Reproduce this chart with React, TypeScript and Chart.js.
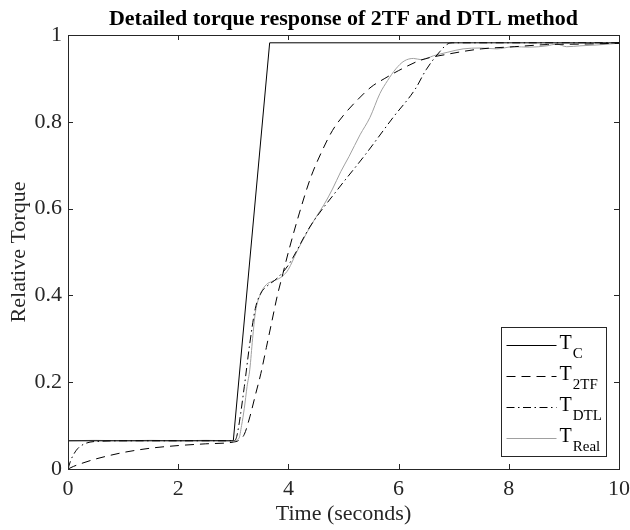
import React, { useEffect, useRef } from "react";
import { Chart, registerables } from "chart.js";

Chart.register(...registerables);

const TITLE = "Detailed torque response of 2TF and DTL method";
const X_LABEL = "Time (seconds)";
const Y_LABEL = "Relative Torque";
const X_TICKS = [0, 2, 4, 6, 8, 10];
const Y_TICKS = [0, 0.2, 0.4, 0.6, 0.8, 1];

const tC = [0, 3, 3.66, 10];
const vC = [0.065, 0.065, 0.982, 0.982];

const t2TF = [0, 0.1, 0.25, 0.5, 0.75, 1, 1.5, 2, 2.5, 3, 3.1, 3.2, 3.3, 3.4, 3.5, 3.6, 3.7, 3.8, 3.9, 4, 4.2, 4.4, 4.6, 4.8, 5, 5.25, 5.5, 5.75, 6, 6.4, 6.9, 7.5, 8.1, 8.7, 9.3, 10];
const v2TF = [0, 0.006, 0.013, 0.023, 0.031, 0.038, 0.048, 0.054, 0.058, 0.062, 0.066, 0.08, 0.12, 0.17, 0.22, 0.28, 0.34, 0.4, 0.45, 0.5, 0.59, 0.67, 0.73, 0.78, 0.815, 0.85, 0.88, 0.9, 0.918, 0.942, 0.956, 0.968, 0.973, 0.978, 0.979, 0.981];

const tDTL = [0, 0.05, 0.1, 0.15, 0.2, 0.3, 0.4, 0.6, 1, 2, 3, 3.05, 3.1, 3.2, 3.3, 3.4, 3.5, 3.6, 3.8, 4, 4.4, 4.9, 5.4, 5.9, 6.3, 6.5, 6.75, 6.9, 7, 8, 9, 10];
const vDTL = [0, 0.02, 0.033, 0.043, 0.05, 0.058, 0.062, 0.064, 0.065, 0.065, 0.065, 0.07, 0.1, 0.19, 0.29, 0.37, 0.405, 0.42, 0.44, 0.47, 0.56, 0.645, 0.725, 0.81, 0.875, 0.92, 0.962, 0.98, 0.982, 0.982, 0.982, 0.982];

const tReal = [0, 0.5, 1, 1.5, 2, 2.5, 3, 3.1, 3.15, 3.2, 3.25, 3.3, 3.35, 3.4, 3.5, 3.6, 3.7, 3.8, 3.9, 4, 4.15, 4.35, 4.5, 4.65, 4.8, 4.95, 5.1, 5.3, 5.48, 5.66, 5.8, 5.95, 6.1, 6.27, 6.42, 6.63, 6.88, 7.17, 7.48, 7.78, 8.08, 8.38, 8.69, 8.87, 9.05, 9.29, 9.6, 10];
const vReal = [0.065, 0.066, 0.065, 0.066, 0.065, 0.066, 0.065, 0.07, 0.1, 0.14, 0.19, 0.23, 0.3, 0.36, 0.405, 0.425, 0.432, 0.437, 0.445, 0.46, 0.5, 0.548, 0.58, 0.61, 0.645, 0.685, 0.72, 0.77, 0.81, 0.865, 0.895, 0.922, 0.94, 0.946, 0.943, 0.952, 0.96, 0.968, 0.97, 0.968, 0.973, 0.972, 0.975, 0.979, 0.973, 0.975, 0.977, 0.981];

const LEGEND_MAIN = ["T", "T", "T", "T"];
const LEGEND_SUB = ["C", "2TF", "DTL", "Real"];

const FONT = "'Liberation Serif', 'Times New Roman', serif";
const AXIS_COLOR = "#262626";

const pts = (t: number[], v: number[]) => t.map((x, i) => ({ x, y: v[i] }));

const decorPlugin = {
  id: "decor",
  afterDraw(chart: any) {
    const { ctx, chartArea } = chart;
    const { left, right, top, bottom } = chartArea;
    const xs = chart.scales.x;
    const ys = chart.scales.y;
    ctx.save();
    // title
    ctx.fillStyle = "#000";
    ctx.font = `bold 22px ${FONT}`;
    ctx.textAlign = "center";
    ctx.textBaseline = "alphabetic";
    ctx.fillText(TITLE, (left + right) / 2, 25);

    // box and inward ticks
    ctx.strokeStyle = AXIS_COLOR;
    ctx.lineWidth = 1;
    ctx.strokeRect(Math.round(left) + 0.5, Math.round(top) + 0.5, Math.round(right - left), Math.round(bottom - top));
    const tl = 5;
    ctx.beginPath();
    X_TICKS.forEach((v) => {
      const px = Math.round(xs.getPixelForValue(v)) + 0.5;
      ctx.moveTo(px, bottom);
      ctx.lineTo(px, bottom - tl);
      ctx.moveTo(px, top);
      ctx.lineTo(px, top + tl);
    });
    Y_TICKS.forEach((v) => {
      const py = Math.round(ys.getPixelForValue(v)) + 0.5;
      ctx.moveTo(left, py);
      ctx.lineTo(left + tl, py);
      ctx.moveTo(right, py);
      ctx.lineTo(right - tl, py);
    });
    ctx.stroke();

    // legend
    const lx = Math.round(right) - 118 + 0.5;
    const ly = Math.round(bottom) - 142 + 0.5;
    const lw = 105;
    const lh = 129;
    ctx.fillStyle = "#fff";
    ctx.fillRect(lx, ly, lw, lh);
    ctx.strokeStyle = AXIS_COLOR;
    ctx.lineWidth = 1;
    ctx.strokeRect(lx, ly, lw, lh);
    chart.data.datasets.forEach((ds: any, i: number) => {
      const cy = ly + 17 + i * 31.3;
      ctx.save();
      ctx.strokeStyle = ds.borderColor;
      ctx.lineWidth = 1;
      ctx.setLineDash(ds.borderDash || []);
      ctx.beginPath();
      ctx.moveTo(lx + 5, Math.round(cy) + 0.5);
      ctx.lineTo(lx + 55, Math.round(cy) + 0.5);
      ctx.stroke();
      ctx.restore();
      ctx.fillStyle = "#000";
      ctx.textAlign = "left";
      ctx.textBaseline = "alphabetic";
      ctx.font = `20px ${FONT}`;
      ctx.fillText(LEGEND_MAIN[i], lx + 58, cy + 4);
      const w = ctx.measureText(LEGEND_MAIN[i]).width;
      ctx.font = `15px ${FONT}`;
      ctx.fillText(LEGEND_SUB[i], lx + 58 + w + 1, cy + 13);
    });
    ctx.restore();
  },
};

export default function App() {
  const ref = useRef<HTMLCanvasElement | null>(null);
  useEffect(() => {
    document.body.style.margin = "0";
    const canvas = ref.current;
    if (!canvas) return;
    const chart = new Chart(canvas, {
      type: "line",
      data: {
        datasets: [
          { label: "T_C", data: pts(tC, vC), borderColor: "#000000", borderWidth: 1, pointRadius: 0, tension: 0 },
          { label: "T_2TF", data: pts(t2TF, v2TF), borderColor: "#000000", borderWidth: 1, borderDash: [9, 6], pointRadius: 0, cubicInterpolationMode: "monotone" },
          { label: "T_DTL", data: pts(tDTL, vDTL), borderColor: "#000000", borderWidth: 1, borderDash: [8, 3.5, 1.5, 3.5], pointRadius: 0, cubicInterpolationMode: "monotone" },
          { label: "T_Real", data: pts(tReal, vReal), borderColor: "#a0a0a0", borderWidth: 1, pointRadius: 0, cubicInterpolationMode: "monotone" },
        ],
      } as any,
      options: {
        animation: false,
        responsive: false,
        devicePixelRatio: 1,
        layout: { padding: { top: 35, right: 11, left: 0, bottom: 0 } },
        plugins: { legend: { display: false }, title: { display: false }, tooltip: { enabled: false } },
        scales: {
          x: {
            type: "linear",
            min: 0,
            max: 10,
            afterBuildTicks: (s: any) => { s.ticks = X_TICKS.map((v) => ({ value: v })); },
            afterFit: (s: any) => { s.height = 61; s.paddingLeft = 0; s.paddingRight = 0; },
            grid: { display: false, drawTicks: false },
            border: { display: false },
            ticks: { color: AXIS_COLOR, font: { family: FONT, size: 22 }, padding: 7, maxRotation: 0, autoSkip: false },
            title: { display: true, text: X_LABEL, color: AXIS_COLOR, font: { family: FONT, size: 22 }, padding: { top: 0, bottom: 3 } },
          },
          y: {
            type: "linear",
            min: 0,
            max: 1,
            afterBuildTicks: (s: any) => { s.ticks = Y_TICKS.map((v) => ({ value: v })); },
            afterFit: (s: any) => { s.width = 68; s.paddingTop = 0; s.paddingBottom = 0; },
            grid: { display: false, drawTicks: false },
            border: { display: false },
            ticks: { color: AXIS_COLOR, font: { family: FONT, size: 22 }, padding: 6, autoSkip: false, callback: (v: any) => String(v) },
            title: { display: true, text: Y_LABEL, color: AXIS_COLOR, font: { family: FONT, size: 22 }, padding: { top: 6, bottom: 0 } },
          },
        },
      } as any,
      plugins: [decorPlugin],
    });
    return () => chart.destroy();
  }, []);
  return (
    <div style={{ width: 630, height: 530 }}>
      <canvas ref={ref} width={630} height={530} />
    </div>
  );
}
